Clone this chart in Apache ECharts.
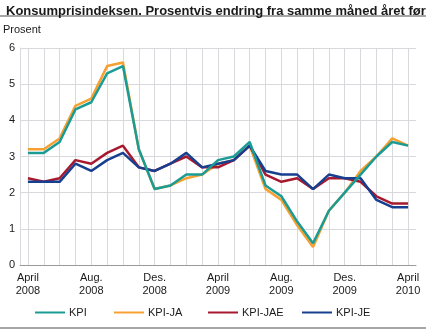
<!DOCTYPE html>
<html>
<head>
<meta charset="utf-8">
<script src="https://cdn.jsdelivr.net/npm/echarts@6/dist/echarts.min.js"></script>
<style>
  html, body { margin: 0; padding: 0; background: #fff; }
  #chart { width: 426px; height: 330px; }
</style>
</head>
<body>
<div id="chart"></div>
<script>
// Months April 2008 – April 2010; only every fourth month is labelled
const months = [
  'April\n2008', 'Mai 2008', 'Juni 2008', 'Juli 2008', 'Aug.\n2008', 'Sep. 2008', 'Okt. 2008', 'Nov. 2008',
  'Des.\n2008', 'Jan. 2009', 'Feb. 2009', 'Mars 2009', 'April\n2009', 'Mai 2009', 'Juni 2009', 'Juli 2009',
  'Aug.\n2009', 'Sep. 2009', 'Okt. 2009', 'Nov. 2009', 'Des.\n2009', 'Jan. 2010', 'Feb. 2010', 'Mars 2010',
  'April\n2010'
];

// 12-month change, per cent
const kpi    = [3.1, 3.1, 3.4, 4.3, 4.5, 5.3, 5.5, 3.2, 2.1, 2.2, 2.5, 2.5, 2.9, 3.0, 3.4, 2.2, 1.9, 1.2, 0.6, 1.5, 2.0, 2.5, 3.0, 3.4, 3.3];
const kpiJa  = [3.2, 3.2, 3.5, 4.4, 4.6, 5.5, 5.6, 3.2, 2.1, 2.2, 2.4, 2.5, 2.8, 2.9, 3.3, 2.1, 1.8, 1.1, 0.5, 1.5, 2.0, 2.6, 3.0, 3.5, 3.3];
const kpiJae = [2.4, 2.3, 2.4, 2.9, 2.8, 3.1, 3.3, 2.7, 2.6, 2.8, 3.0, 2.7, 2.7, 2.9, 3.3, 2.5, 2.3, 2.4, 2.1, 2.4, 2.4, 2.3, 1.9, 1.7, 1.7];
const kpiJe  = [2.3, 2.3, 2.3, 2.8, 2.6, 2.9, 3.1, 2.7, 2.6, 2.8, 3.1, 2.7, 2.8, 2.9, 3.3, 2.6, 2.5, 2.5, 2.1, 2.5, 2.4, 2.4, 1.8, 1.6, 1.6];

const seriesNames = ['KPI', 'KPI-JA', 'KPI-JAE', 'KPI-JE'];
const seriesData = [kpi, kpiJa, kpiJae, kpiJe];
const colors = ['#1a9c95', '#f6a032', '#a7192e', '#173f8f'];

const font = '"Liberation Sans", Arial, sans-serif';
const textColor = '#1a1a1a';

const legendLefts = [30, 109, 203, 297];

const chart = echarts.init(document.getElementById('chart'), null, { renderer: 'canvas' });

chart.setOption({
  animation: false,
  color: colors,
  textStyle: { fontFamily: font },
  title: {
    text: 'Konsumprisindeksen. Prosentvis endring fra samme måned året før',
    left: 1, top: 0,
    textStyle: { fontFamily: font, fontSize: 13, fontWeight: 'bold', color: textColor }
  },
  graphic: [
    { type: 'rect', shape: { x: 0, y: 15, width: 426, height: 2 }, style: { fill: '#a6a6a6' } },
    { type: 'rect', shape: { x: 0, y: 327, width: 426, height: 2 }, style: { fill: '#a6a6a6' } },
    { type: 'text', left: 3, top: 24, style: { text: 'Prosent', font: '11px ' + font, fill: textColor } }
  ],
  legend: seriesNames.map((name, i) => ({
    data: [name],
    left: legendLefts[i], top: 302,
    icon: 'rect', itemWidth: 30, itemHeight: 2, itemGap: 4,
    textStyle: { fontFamily: font, fontSize: 11, color: textColor, padding: [0, 0, 0, -1] }
  })),
  grid: { left: 20, right: 10, top: 48, bottom: 65, containLabel: false },
  xAxis: {
    type: 'category',
    data: months,
    boundaryGap: true,
    axisLine: { show: true, lineStyle: { color: '#9a9a9a', width: 1 } },
    axisTick: { show: false },
    axisLabel: {
      interval: 3,
      fontFamily: font, fontSize: 11, color: textColor, lineHeight: 13, margin: 6
    },
    splitLine: { show: true, alignWithLabel: true, interval: 0, lineStyle: { color: '#d9d9dd', width: 1 } }
  },
  yAxis: {
    type: 'value',
    min: 0, max: 6, interval: 1,
    axisLine: { show: true, lineStyle: { color: '#d9d9dd', width: 1 } },
    axisTick: { show: false },
    axisLabel: { fontFamily: font, fontSize: 11, color: textColor, margin: 5 },
    splitLine: { show: true, lineStyle: { color: '#d9d9dd', width: 1 } }
  },
  series: seriesNames.map((name, i) => ({
    name,
    type: 'line',
    data: seriesData[i],
    symbol: 'none',
    lineStyle: { width: 2.5, color: colors[i] },
    z: i === 0 ? 10 : 6 + i
  }))
});
</script>
</body>
</html>
